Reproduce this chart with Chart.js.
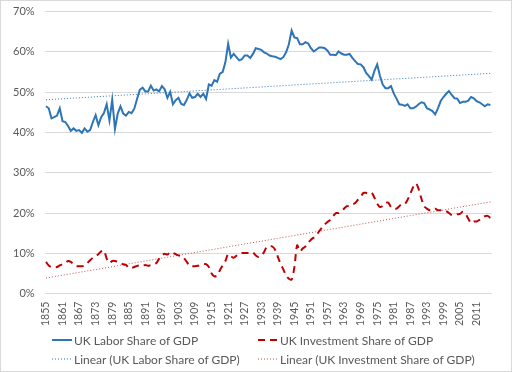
<!DOCTYPE html>
<html>
<head>
<meta charset="utf-8">
<script src="https://cdn.jsdelivr.net/npm/chart.js@4.4.0/dist/chart.umd.min.js"></script>
<style>
  body { margin: 0; background: #fff; font-family: Lato, sans-serif; }
  #wrap { position: relative; width: 510px; height: 370px; border: 1px solid #d9d9d9; background: #fff; overflow: hidden; }
  #chartBox { position: absolute; left: 0; top: -6px; width: 510px; height: 342px; }
  #legend { position: absolute; left: 51px; top: 331px; display: grid; grid-template-columns: 206px 250px; row-gap: 3px; font-size: 12px; color: #595959; }
  .item { display: flex; align-items: center; height: 16px; white-space: nowrap; }
  .item svg { margin-right: 2px; }
</style>
</head>
<body>
<div id="wrap">
  <div id="chartBox"><canvas id="chart"></canvas></div>
  <div id="legend"></div>
</div>
<script>
// years 1855 - 2016
const years = [];
for (let y = 1855; y <= 2016; y++) years.push(String(y));

const laborShare = [
  46.5, 46.0, 43.5, 43.8, 44.2, 46.0, 42.8, 42.6, 41.6, 40.4,
  41.0, 40.4, 40.6, 39.9, 41.0, 40.2, 40.6, 42.6, 44.3, 41.8,
  43.8, 44.8, 47.0, 43.0, 48.1, 40.9, 44.7, 46.5, 44.7, 44.2,
  45.1, 44.8, 45.9, 48.3, 50.6, 51.1, 50.2, 50.2, 51.6, 50.4,
  50.7, 50.2, 51.5, 50.7, 48.6, 50.1, 47.0, 48.0, 48.6, 47.1,
  46.8, 48.1, 49.7, 48.6, 48.8, 49.6, 48.8, 49.6, 48.3, 51.9,
  51.6, 53.0, 52.6, 54.6, 55.0, 57.4, 62.0, 58.6, 59.5, 58.7,
  57.9, 58.2, 59.1, 59.1, 58.5, 59.5, 60.9, 60.7, 60.5, 59.9,
  59.6, 59.1, 58.9, 58.8, 58.5, 58.2, 58.7, 59.9, 61.9, 65.3,
  63.6, 63.4, 61.9, 61.9, 62.4, 62.1, 60.9, 60.1, 60.6, 61.1,
  61.1, 60.9, 60.3, 59.3, 59.3, 59.2, 60.1, 59.6, 59.3, 59.3,
  59.5, 58.5, 57.7, 57.0, 56.9, 56.2, 54.8, 54.0, 53.1, 55.3,
  56.9, 54.0, 51.9, 51.0, 51.0, 51.5, 49.7, 48.4, 47.0, 46.9,
  46.6, 47.0, 46.0, 46.0, 46.4, 47.0, 47.5, 47.3, 46.0, 45.7,
  45.3, 44.5, 46.0, 47.8, 48.8, 49.6, 50.3, 49.3, 48.5, 48.4,
  47.3, 47.6, 47.6, 47.9, 48.8, 48.5, 47.8, 47.5, 47.0, 46.5,
  47.0, 46.8
];

const investmentShare = [
  7.9, 7.0, 6.6, 6.6, 6.6, 7.0, 7.3, 7.6, 8.1, 7.9,
  7.3, 6.9, 6.8, 6.8, 7.0, 7.6, 8.3, 8.9, 9.3, 9.8,
  10.5, 10.7, 8.7, 7.6, 8.1, 8.1, 7.9, 7.6, 7.3, 7.1,
  6.4, 6.4, 6.6, 6.9, 7.0, 6.9, 7.1, 6.9, 7.1, 7.3,
  7.6, 8.7, 9.5, 9.9, 9.7, 10.3, 10.1, 9.8, 9.5, 9.3,
  8.8, 7.9, 6.9, 6.8, 6.8, 6.9, 7.1, 7.3, 7.3, 6.6,
  5.0, 4.3, 4.5, 5.8, 7.0, 8.1, 9.8, 9.3, 8.9, 9.4,
  9.9, 10.1, 10.1, 10.1, 10.1, 10.2, 9.5, 9.1, 9.4, 10.3,
  11.6, 11.7, 11.7, 10.9, 9.1, 7.4, 6.0, 4.5, 3.7, 3.5,
  6.6, 12.0, 10.5, 11.2, 11.7, 12.6, 13.4, 13.9, 14.5, 15.5,
  16.4, 17.2, 17.8, 18.3, 19.2, 20.0, 20.0, 20.5, 21.1, 21.7,
  21.8, 22.1, 22.5, 23.3, 24.0, 25.0, 25.0, 24.8, 25.0, 23.8,
  22.3, 21.5, 21.8, 22.5, 22.6, 21.5, 21.1, 21.1, 21.7, 22.3,
  22.3, 23.3, 24.8, 26.4, 27.4, 26.0, 23.6, 21.7, 21.1, 20.7,
  20.7, 21.1, 20.7, 20.7, 20.8, 20.5, 20.0, 19.5, 19.5, 19.7,
  19.8, 20.3, 19.8, 18.6, 17.5, 17.9, 17.9, 18.3, 18.8, 19.2,
  19.3, 18.8
];

const yTicks = [0, 10, 20, 30, 40, 50, 60, 70];

// least squares trend, like Excel's "Linear" trendline
function linearTrend(arr) {
  const n = arr.length;
  let sx = 0, sy = 0, sxy = 0, sxx = 0;
  arr.forEach((v, i) => { sx += i; sy += v; sxy += i * v; sxx += i * i; });
  const b = (n * sxy - sx * sy) / (n * sxx - sx * sx);
  const a = (sy - b * sx) / n;
  return arr.map((_, i) => a + b * i);
}

const blue = '#2e75b6';
const red = '#c00000';

const ctx = document.getElementById('chart').getContext('2d');
const chart = new Chart(ctx, {
  type: 'line',
  data: {
    labels: years,
    datasets: [
      {
        label: 'UK Labor Share of GDP',
        data: laborShare,
        borderColor: blue,
        borderWidth: 2,
        pointRadius: 0,
        tension: 0
      },
      {
        label: 'UK Investment Share of GDP',
        data: investmentShare,
        borderColor: red,
        borderWidth: 2,
        borderDash: [7, 5],
        pointRadius: 0,
        tension: 0.3
      },
      {
        label: 'Linear (UK Labor Share of GDP)',
        data: linearTrend(laborShare),
        borderColor: blue,
        borderWidth: 1,
        borderDash: [1, 2],
        pointRadius: 0
      },
      {
        label: 'Linear (UK Investment Share of GDP)',
        data: linearTrend(investmentShare),
        borderColor: '#c0504d',
        borderWidth: 1,
        borderDash: [1, 2],
        pointRadius: 0
      }
    ]
  },
  options: {
    responsive: true,
    maintainAspectRatio: false,
    animation: false,
    layout: { padding: { top: 4, right: 6, left: 2, bottom: 3 } },
    plugins: { legend: { display: false }, tooltip: { enabled: false } },
    scales: {
      x: {
        offset: true,
        grid: { display: false, drawTicks: false },
        border: { display: false },
        ticks: {
          autoSkip: false,
          maxRotation: 90,
          minRotation: 90,
          padding: 8,
          color: '#595959',
          font: { family: 'Lato', size: 10.5 },
          callback: function(val, i) {
            return i % 6 === 0 ? years[i] : '';
          }
        }
      },
      y: {
        min: 0,
        max: 70,
        afterBuildTicks: axis => { axis.ticks = yTicks.map(v => ({ value: v })); },
        grid: { color: '#d9d9d9', drawTicks: false },
        border: { display: false },
        ticks: {
          padding: 10,
          color: '#595959',
          font: { family: 'Lato', size: 11 },
          callback: v => v + '%'
        }
      }
    }
  }
});

// legend laid out in two columns like the original
const legendEl = document.getElementById('legend');
chart.data.datasets.forEach(ds => {
  const item = document.createElement('div');
  item.className = 'item';
  const dash = ds.borderDash ? ds.borderDash.join(' ') : 'none';
  item.innerHTML =
    '<svg width="20" height="6"><line x1="0" y1="3" x2="20" y2="3" stroke="' + ds.borderColor +
    '" stroke-width="' + ds.borderWidth + '" stroke-dasharray="' + dash + '"/></svg>' +
    '<span>' + ds.label + '</span>';
  legendEl.appendChild(item);
});
</script>
</body>
</html>
